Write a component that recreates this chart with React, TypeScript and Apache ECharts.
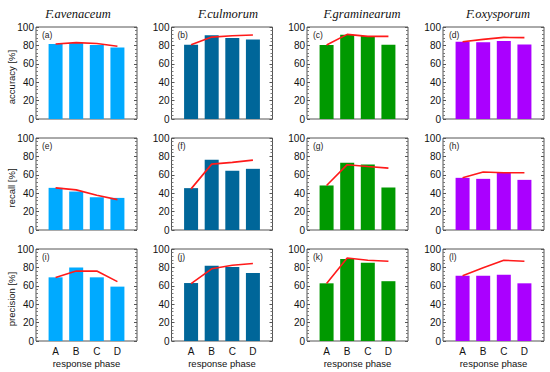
import React, { useEffect, useRef } from "react";
import * as echarts from "echarts";

const phases = ["A", "B", "C", "D"];
const species = ["F.avenaceum", "F.culmorum", "F.graminearum", "F.oxysporum"];
const metrics = ["accuracy [%]", "recall [%]", "precision [%]"];
const panelLetters = [
  ["(a)", "(b)", "(c)", "(d)"],
  ["(e)", "(f)", "(g)", "(h)"],
  ["(i)", "(j)", "(k)", "(l)"],
];
const speciesColors = ["#00aaff", "#006699", "#009900", "#aa00ff"];

const accuracyBars = [
  [81.5, 82.5, 80.4, 77.8],
  [80.7, 90.9, 88, 86.5],
  [80.4, 91.6, 90.2, 80.7],
  [84, 83.3, 84.7, 81],
];
const accuracyLine = [
  [81.5, 83, 82, 79],
  [80.7, 89, 90.5, 91.3],
  [80.4, 92, 89.8, 89.8],
  [84, 86.5, 88.7, 88.4],
];
const recallBars = [
  [45.8, 41.8, 35.6, 34.9],
  [45.5, 76.4, 64.4, 66.5],
  [48.4, 73, 71.3, 46.2],
  [56.7, 55.6, 62.5, 54.5],
];
const recallLine = [
  [45.8, 43.6, 37.8, 33],
  [44.7, 71.6, 73.5, 76],
  [48.4, 71, 69, 67.3],
  [56.7, 63, 62.2, 62.2],
];
const precisionBars = [
  [69.2, 80, 69.2, 59.1],
  [63, 81.7, 80.3, 73.8],
  [62.7, 89, 85, 65],
  [71, 71, 72, 62.7],
];
const precisionLine = [
  [69, 76, 76, 64.5],
  [62.4, 78.5, 82.4, 84.2],
  [62.4, 90.3, 87.8, 86.7],
  [71, 79.5, 87.8, 86.7],
];

const barsByMetric = [accuracyBars, recallBars, precisionBars];
const lineByMetric = [accuracyLine, recallLine, precisionLine];

export default function App() {
  const ref = useRef<HTMLDivElement>(null);
  useEffect(() => {
    if (!ref.current) return;
    const chart = echarts.init(ref.current, null, { renderer: "svg" });

    const colLeft = [36, 171.5, 307, 443];
    const plotW = 101;
    const rowTop = [27, 138, 249];
    const plotH = 92;
    const titleX = [73, 223, 357, 493];

    const grids: any[] = [];
    const xAxes: any[] = [];
    const yAxes: any[] = [];
    const series: any[] = [];
    const graphics: any[] = [];
    const titles: any[] = [];

    const font = "'Liberation Sans', Arial, sans-serif";

    species.forEach((sp, c) => {
      titles.push({
        text: sp,
        left: titleX[c],
        top: 2,
        textAlign: "center",
        textStyle: {
          fontFamily: "'Liberation Serif', 'Times New Roman', serif",
          fontStyle: "italic",
          fontWeight: "normal",
          fontSize: 12.5,
          color: "#111",
        },
      });
    });

    metrics.forEach((m, r) => {
      graphics.push({
        type: "text",
        x: 11,
        y: rowTop[r] + plotH / 2 + 4,
        rotation: Math.PI / 2,
        style: {
          text: m,
          fontFamily: font,
          fontSize: 9.5,
          fill: "#111",
          align: "center",
          verticalAlign: "middle",
        },
      });
      species.forEach((sp, c) => {
        const gi = grids.length;
        grids.push({
          left: colLeft[c],
          top: rowTop[r],
          width: plotW,
          height: plotH,
          show: true,
          borderColor: "#555",
          borderWidth: 1,
          backgroundColor: "transparent",
        });
        const bottomRow = r === metrics.length - 1;
        xAxes.push({
          type: "value",
          gridIndex: gi,
          min: 0.05,
          max: 4.95,
          splitLine: { show: false },
          axisLine: { show: false },
          axisTick: { show: false },
          axisLabel: {
            show: bottomRow,
            customValues: [1, 2, 3, 4],
            formatter: (v: number) => phases[Math.round(v) - 1] ?? "",
            fontFamily: font,
            fontSize: 10,
            color: "#111",
            margin: 5,
          },
          name: bottomRow ? "response phase" : "",
          nameLocation: "middle",
          nameGap: 17,
          nameTextStyle: { fontFamily: font, fontSize: 9.5, color: "#111" },
        });
        const yBase = {
          type: "value",
          gridIndex: gi,
          min: 0,
          max: 100,
          interval: 20,
          splitLine: { show: false },
          axisLine: { show: false },
          axisTick: { show: true, inside: true, length: 3, lineStyle: { color: "#555" } },
          minorTick: { show: true, splitNumber: 5, length: 2, lineStyle: { color: "#777" } },
        };
        const yl = yAxes.length;
        yAxes.push({
          ...yBase,
          position: "left",
          axisLabel: {
            show: true,
            fontFamily: font,
            fontSize: 10,
            color: "#111",
            margin: 2,
          },
        });
        yAxes.push({
          ...yBase,
          position: "right",
          axisLabel: { show: false },
        });
        const bars = barsByMetric[r][c];
        const line = lineByMetric[r][c];
        series.push({
          type: "bar",
          xAxisIndex: gi,
          yAxisIndex: yl,
          barWidth: 14,
          data: bars.map((v, i) => [i + 1, v]),
          itemStyle: { color: speciesColors[c] },
        });
        series.push({
          type: "line",
          xAxisIndex: gi,
          yAxisIndex: yl,
          data: line.map((v, i) => [i + 1, v]),
          symbol: "none",
          lineStyle: { color: "#ff1a1a", width: 1.6 },
          z: 5,
        });
        graphics.push({
          type: "text",
          x: colLeft[c] + 6,
          y: rowTop[r] + 8,
          style: {
            text: panelLetters[r][c],
            fontFamily: font,
            fontSize: 8.5,
            fill: "#222",
            verticalAlign: "middle",
          },
        });
      });
    });

    chart.setOption({
      animation: false,
      backgroundColor: "#fff",
      title: titles,
      grid: grids,
      xAxis: xAxes,
      yAxis: yAxes,
      series,
      graphic: graphics,
    });
    return () => chart.dispose();
  }, []);

  return <div ref={ref} style={{ width: 550, height: 372, position: "absolute", left: 0, top: 0 }} />;
}
